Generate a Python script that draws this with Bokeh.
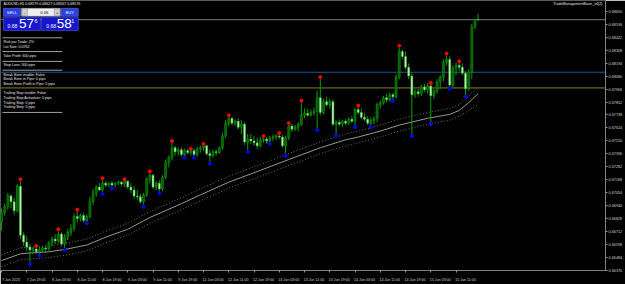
from bokeh.plotting import figure
from bokeh.models import Range1d, LinearAxis, FixedTicker, Span, Label, PrintfTickFormatter
from bokeh.core.properties import value
from bokeh.embed import file_html
from bokeh.resources import INLINE

# ---------------- data ----------------
opens = [0.66793,0.66879,0.66931,0.67026,0.66975,0.66896,0.67112,0.66681,0.66620,0.66577,
         0.66551,0.66560,0.66534,0.66551,0.66569,0.66560,0.66612,0.66646,0.66629,0.66690,
         0.66603,0.66663,0.66707,0.66742,0.66845,0.66828,0.66853,0.66810,0.66845,0.66975,
         0.67052,0.67104,0.67078,0.67138,0.67121,0.67138,0.67121,0.67138,0.67147,0.67130,
         0.67155,0.67104,0.67078,0.67026,0.67018,0.66975,0.67035,0.67173,0.67208,0.67104,
         0.67138,0.67087,0.67190,0.67320,0.67363,0.67450,0.67415,0.67433,0.67390,0.67424,
         0.67407,0.67424,0.67390,0.67441,0.67450,0.67467,0.67398,0.67381,0.67415,0.67407,
         0.67450,0.67553,0.67666,0.67709,0.67666,0.67683,0.67631,0.67657,0.67501,0.67527,
         0.67510,0.67493,0.67467,0.67519,0.67527,0.67510,0.67536,0.67544,0.67553,0.67544,
         0.67467,0.67536,0.67640,0.67613,0.67631,0.67657,0.67735,0.67752,0.67735,0.67760,
         0.67769,0.67890,0.67760,0.67855,0.67829,0.67855,0.67657,0.67674,0.67657,0.67683,
         0.67666,0.67700,0.67683,0.67786,0.67760,0.67717,0.67700,0.67666,0.67692,0.67709,
         0.67829,0.67846,0.67890,0.67872,0.67916,0.67899,0.68071,0.68296,0.68253,0.68158,
         0.68080,0.67916,0.67942,0.67925,0.67985,0.67959,0.67994,0.67907,0.67951,0.68028,
         0.68071,0.68201,0.68227,0.68002,0.68149,0.68175,0.68158,0.68106,0.67968,0.68114,
         0.68512,0.68579]
highs = [0.66914,0.66958,0.67052,0.67044,0.67009,0.67130,0.67155,0.66707,0.66672,0.66603,
         0.66577,0.66569,0.66577,0.66586,0.66594,0.66629,0.66672,0.66690,0.66716,0.66707,
         0.66690,0.66733,0.66776,0.66871,0.66888,0.66871,0.66879,0.66862,0.67018,0.67087,
         0.67121,0.67138,0.67164,0.67155,0.67147,0.67155,0.67147,0.67164,0.67155,0.67164,
         0.67164,0.67138,0.67112,0.67078,0.67044,0.67052,0.67190,0.67225,0.67217,0.67155,
         0.67164,0.67208,0.67346,0.67381,0.67493,0.67467,0.67450,0.67450,0.67441,0.67441,
         0.67433,0.67441,0.67458,0.67467,0.67476,0.67476,0.67433,0.67433,0.67433,0.67458,
         0.67579,0.67692,0.67717,0.67717,0.67700,0.67709,0.67692,0.67674,0.67570,0.67570,
         0.67553,0.67536,0.67544,0.67544,0.67544,0.67553,0.67562,0.67570,0.67570,0.67562,
         0.67553,0.67657,0.67657,0.67649,0.67674,0.67846,0.67795,0.67795,0.67786,0.67803,
         0.67951,0.68054,0.67881,0.67899,0.67881,0.67872,0.67692,0.67700,0.67692,0.67700,
         0.67717,0.67726,0.67803,0.67812,0.67795,0.67752,0.67726,0.67717,0.67726,0.67846,
         0.67864,0.67907,0.67925,0.67933,0.67933,0.68097,0.68331,0.68313,0.68296,0.68192,
         0.68105,0.67968,0.67968,0.68002,0.68011,0.68019,0.68002,0.67968,0.68054,0.68088,
         0.68227,0.68261,0.68253,0.68175,0.68201,0.68201,0.68192,0.68123,0.68140,0.68538,
         0.68581,0.68627]
lows = [0.66724,0.66853,0.66905,0.66914,0.66862,0.66879,0.66646,0.66586,0.66543,0.66440,
        0.66517,0.66517,0.66517,0.66526,0.66534,0.66543,0.66586,0.66603,0.66612,0.66586,
        0.66569,0.66637,0.66672,0.66716,0.66793,0.66802,0.66793,0.66793,0.66828,0.66949,
        0.67018,0.67069,0.67061,0.67104,0.67104,0.67112,0.67104,0.67121,0.67112,0.67104,
        0.67087,0.67052,0.67001,0.66992,0.66958,0.66949,0.67018,0.67138,0.67087,0.67078,
        0.67069,0.67069,0.67173,0.67277,0.67337,0.67381,0.67381,0.67372,0.67372,0.67390,
        0.67381,0.67372,0.67372,0.67407,0.67424,0.67381,0.67328,0.67363,0.67381,0.67398,
        0.67433,0.67536,0.67640,0.67649,0.67640,0.67613,0.67570,0.67476,0.67424,0.67484,
        0.67467,0.67441,0.67450,0.67493,0.67484,0.67501,0.67510,0.67519,0.67527,0.67450,
        0.67398,0.67519,0.67588,0.67596,0.67596,0.67640,0.67709,0.67726,0.67726,0.67735,
        0.67613,0.67735,0.67743,0.67812,0.67795,0.67640,0.67570,0.67640,0.67631,0.67649,
        0.67649,0.67666,0.67640,0.67743,0.67700,0.67683,0.67649,0.67640,0.67657,0.67674,
        0.67795,0.67829,0.67846,0.67855,0.67872,0.67881,0.68054,0.68227,0.68140,0.68054,
        0.67562,0.67890,0.67899,0.67907,0.67942,0.67925,0.67674,0.67881,0.67925,0.67968,
        0.68037,0.68175,0.67976,0.67985,0.68088,0.68123,0.68088,0.67907,0.67951,0.68054,
        0.68495,0.68567]
closes = [0.66879,0.66931,0.67026,0.66975,0.66896,0.67112,0.66681,0.66620,0.66577,0.66551,
          0.66560,0.66534,0.66551,0.66569,0.66560,0.66612,0.66646,0.66629,0.66690,0.66603,
          0.66663,0.66707,0.66742,0.66845,0.66828,0.66853,0.66810,0.66845,0.66975,0.67052,
          0.67104,0.67078,0.67138,0.67121,0.67138,0.67121,0.67138,0.67147,0.67130,0.67155,
          0.67104,0.67078,0.67026,0.67018,0.66975,0.67035,0.67173,0.67208,0.67104,0.67138,
          0.67087,0.67190,0.67320,0.67363,0.67450,0.67415,0.67433,0.67390,0.67424,0.67407,
          0.67424,0.67390,0.67441,0.67450,0.67467,0.67398,0.67381,0.67415,0.67407,0.67450,
          0.67553,0.67666,0.67709,0.67666,0.67683,0.67631,0.67657,0.67501,0.67527,0.67510,
          0.67493,0.67467,0.67519,0.67527,0.67510,0.67536,0.67544,0.67553,0.67544,0.67467,
          0.67536,0.67640,0.67613,0.67631,0.67657,0.67735,0.67752,0.67735,0.67760,0.67769,
          0.67890,0.67760,0.67855,0.67829,0.67855,0.67657,0.67674,0.67657,0.67683,0.67666,
          0.67700,0.67683,0.67786,0.67760,0.67717,0.67700,0.67666,0.67692,0.67709,0.67829,
          0.67846,0.67890,0.67872,0.67916,0.67899,0.68071,0.68296,0.68253,0.68158,0.68080,
          0.67916,0.67942,0.67925,0.67985,0.67959,0.67994,0.67907,0.67951,0.68028,0.68071,
          0.68201,0.68227,0.68002,0.68149,0.68175,0.68158,0.68106,0.67968,0.68114,0.68512,
          0.68579,0.68576]
bars = list(range(len(opens)))

# fractal markers (bar index, price)
up_fractal_bar = [6, 11, 18, 24, 32, 39, 47, 54, 60, 64, 72, 83, 88, 91, 95, 101, 113, 126, 136, 141, 145]
up_fractal_px = [0.67173, 0.66586, 0.66733, 0.66905, 0.67182, 0.67173, 0.67242, 0.67510, 0.67441, 0.67484,
                 0.67735, 0.67553, 0.67579, 0.67666, 0.67864, 0.68071, 0.67821, 0.68348, 0.68019, 0.68278, 0.68210]
dn_fractal_bar = [9, 12, 20, 27, 32, 35, 45, 50, 58, 61, 66, 78, 85, 90, 100, 106, 112, 117, 124, 130, 136, 142, 147]
dn_fractal_px = [0.66422, 0.66500, 0.66551, 0.66785, 0.67044, 0.67095, 0.66931, 0.67052, 0.67363, 0.67363,
                 0.67311, 0.67415, 0.67484, 0.67381, 0.67605, 0.67562, 0.67631, 0.67631, 0.67864, 0.67553,
                 0.67657, 0.67968, 0.67899]

# envelope bands
band_bar = [0, 6, 10, 15, 21, 27, 33, 40, 47, 57, 63, 72, 82, 91, 101, 109, 113, 120, 126, 135, 142, 145, 148, 151]
band_mid = [0.66457, 0.66517, 0.66526, 0.66534, 0.66560, 0.66594, 0.66663, 0.66733, 0.66836, 0.66958, 0.67035, 0.67147,
            0.67251, 0.67346, 0.67450, 0.67519, 0.67544, 0.67596, 0.67649, 0.67709, 0.67743, 0.67778, 0.67846, 0.67925]
band_up = [0.66508, 0.66569, 0.66577, 0.66586, 0.66612, 0.66646, 0.66716, 0.66785, 0.66888, 0.67009, 0.67087, 0.67199,
           0.67303, 0.67398, 0.67501, 0.67570, 0.67596, 0.67649, 0.67700, 0.67760, 0.67795, 0.67829, 0.67907, 0.67985]
band_lo = [0.66405, 0.66465, 0.66474, 0.66483, 0.66508, 0.66543, 0.66612, 0.66681, 0.66785, 0.66905, 0.66983, 0.67095,
           0.67199, 0.67294, 0.67398, 0.67467, 0.67493, 0.67544, 0.67596, 0.67657, 0.67692, 0.67726, 0.67778, 0.67829]

bid_price = 0.68576
line_blue_price = 0.68114
line_olive_price = 0.67976

price_ticks = [0.66370, 0.66484, 0.66598, 0.66712, 0.66826, 0.66940, 0.67054, 0.67168, 0.67282, 0.67396, 0.67510,
               0.67624, 0.67738, 0.67852, 0.67966, 0.68080, 0.68194, 0.68308, 0.68422, 0.68536, 0.68650]
time_tick_bar = [0, 8, 16, 24, 32, 40, 48, 56, 64, 72, 80, 88, 96, 104, 112, 120, 128, 136, 144]
time_labels = ["7 Jun 2023", "7 Jun 19:00", "8 Jun 03:00", "8 Jun 11:00", "8 Jun 19:00", "9 Jun 03:00",
               "9 Jun 11:00", "9 Jun 19:00", "12 Jun 03:00", "12 Jun 11:00", "12 Jun 19:00", "13 Jun 03:00",
               "13 Jun 11:00", "13 Jun 19:00", "14 Jun 03:00", "14 Jun 11:00", "14 Jun 19:00", "15 Jun 03:00",
               "15 Jun 11:00"]

title_text = "AUDUSD,H1  0.68579 0.68627 0.68567 0.68576"
ea_name = "TradeManagementBasic_v4(2)"
info_lines = ["Risk per Trade: 2%", "Lot Size: 0.0762", "Take Profit: 600 pips", "Stop Loss: 300 pips",
              "Break Even enable: False", "Break Even in Pips: 0 pips", "Break Even Profit in Pips: 0 pips",
              "Trailing Stop enable: False", "Trailing Stop Activation: 0 pips", "Trailing Stop: 0 pips",
              "Trailing Step: 0 pips"]

# ---------------- layout ----------------
XR0, XR1 = -0.32, 191.35
YR0, YR1 = 0.66370, 0.68745
FW, FH = 607, 275
FONT = value("Liberation Sans")


def X(px):
    return XR0 + px * (XR1 - XR0) / FW


def Y(py):
    return YR1 - py * (YR1 - YR0) / FH


p = figure(width=625, height=284, x_range=Range1d(XR0, XR1), y_range=Range1d(YR0, YR1),
           output_backend="svg", toolbar_location=None, x_axis_location=None, y_axis_location=None,
           min_border_left=0, min_border_top=0, min_border_right=18, min_border_bottom=9,
           background_fill_color="black", border_fill_color="black", outline_line_color="#5a5a5a")
p.grid.visible = False

# axes
yax = LinearAxis(ticker=FixedTicker(ticks=price_ticks), formatter=PrintfTickFormatter(format="%.5f"))
yax.axis_line_color = "#808080"
yax.major_tick_line_color = "#9a9a9a"
yax.major_tick_out = 2
yax.major_tick_in = 0
yax.minor_tick_line_color = None
yax.major_label_standoff = 1
yax.major_label_text_font = "Liberation Sans"
yax.major_label_text_font_size = "3.8px"
yax.major_label_text_color = "#d0d0d0"
p.add_layout(yax, "right")

label_pos = [b + 3 for b in time_tick_bar]
xax = LinearAxis(ticker=FixedTicker(ticks=label_pos, minor_ticks=time_tick_bar),
                 major_label_overrides={lp: t for lp, t in zip(label_pos, time_labels)})
xax.axis_line_color = "#808080"
xax.major_tick_line_color = None
xax.minor_tick_line_color = "#9a9a9a"
xax.minor_tick_out = 2
xax.minor_tick_in = 0
xax.major_label_standoff = 1
xax.major_label_text_font = "Liberation Sans"
xax.major_label_text_font_size = "3.6px"
xax.major_label_text_color = "#d0d0d0"
p.add_layout(xax, "below")

# horizontal lines
p.add_layout(Span(location=bid_price, dimension="width", line_color="#6f7f8f", line_width=1, level="underlay"))
p.add_layout(Span(location=line_blue_price, dimension="width", line_color="#1d5a92", line_width=1, level="underlay"))
p.add_layout(Span(location=line_olive_price, dimension="width", line_color="#80801e", line_width=1, level="underlay"))

# envelope bands
p.line(band_bar, band_mid, line_color="#a8a8a8", line_width=0.9)
p.line(band_bar, band_up, line_color="#8c8c8c", line_width=0.8, line_dash="1 2")
p.line(band_bar, band_lo, line_color="#8c8c8c", line_width=0.8, line_dash="1 2")

# candles
bull = [c >= o for o, c in zip(opens, closes)]
p.segment(x0=bars, y0=lows, x1=bars, y1=highs, line_color="#00a000", line_width=1)
p.vbar(x=[b for b, u in zip(bars, bull) if u], width=0.62,
       top=[c for c, u in zip(closes, bull) if u], bottom=[o for o, u in zip(opens, bull) if u],
       fill_color="#0a560a", line_color="#00a000", line_width=0.6)
p.vbar(x=[b for b, u in zip(bars, bull) if not u], width=0.62,
       top=[o for o, u in zip(opens, bull) if not u], bottom=[c for c, u in zip(closes, bull) if not u],
       fill_color="#c0f2b8", line_color="#3cb43c", line_width=0.5)

# fractals
p.scatter(up_fractal_bar, up_fractal_px, marker="circle", size=3.0, fill_color="#ff0000", line_color="#ff0000")
p.scatter(dn_fractal_bar, dn_fractal_px, marker="circle", size=3.0, fill_color="#0000ff", line_color="#0000ff")

# bid price tag on the price scale
p.add_layout(Label(x=XR1, y=bid_price, x_offset=1, text="%.5f" % bid_price, text_font="Liberation Sans",
                   text_font_size="3.8px", text_color="black", text_baseline="middle",
                   background_fill_color="#f0f0f0"))

# header texts
p.text(x=[X(3)], y=[Y(4)], text=[title_text], text_font=FONT, text_font_size="3.6px",
       text_color="#e8e8e8", text_baseline="middle")
p.text(x=[X(604)], y=[Y(4)], text=[ea_name], text_font=FONT, text_font_size="3.6px",
       text_color="#e8e8e8", text_baseline="middle", text_align="right")

# trade panel: buttons
p.quad(left=[X(3), X(61)], right=[X(20), X(78)], top=[Y(8), Y(8)], bottom=[Y(16), Y(16)],
       fill_color="#2b3fdc", line_color="#6a7cff", line_width=0.5)
p.quad(left=[X(21)], right=[X(60)], top=[Y(8)], bottom=[Y(16)], fill_color="#eeeeee", line_color="#9a9a9a",
       line_width=0.5)
p.quad(left=[X(21.5), X(54)], right=[X(27), X(59.5)], top=[Y(8.5), Y(8.5)], bottom=[Y(15.5), Y(15.5)],
       fill_color="#cfcfcf", line_color="#8a8a8a", line_width=0.5)
p.quad(left=[X(3), X(41)], right=[X(40), X(78)], top=[Y(17), Y(17)], bottom=[Y(30.5), Y(30.5)],
       fill_color="#1616cf", line_color="#5a6aff", line_width=0.5)
p.text(x=[X(11.5), X(69.5)], y=[Y(12), Y(12)], text=["SELL", "BUY"], text_font=FONT, text_font_size="4.2px",
       text_color="white", text_align="center", text_baseline="middle")
p.text(x=[X(24.2), X(56.8), X(44)], y=[Y(12), Y(12), Y(12)], text=["-", "+", "0.05"], text_font=FONT,
       text_font_size="4.2px", text_color="black", text_align="center", text_baseline="middle")
p.text(x=[X(7), X(46)], y=[Y(27.5), Y(27.5)], text=["0.68", "0.68"], text_font=FONT, text_font_size="5px",
       text_color="white")
p.text(x=[X(18.5), X(56.5)], y=[Y(28.5), Y(28.5)], text=["57", "58"], text_font=FONT, text_font_size="13.5px",
       text_color="white")
p.text(x=[X(34), X(71)], y=[Y(22.5), Y(22.5)], text=["6", "1"], text_font=FONT, text_font_size="5.5px",
       text_color="white")

# info block
sep_rows = [38, 52, 62, 71, 114]
p.segment(x0=[X(2)] * len(sep_rows), x1=[X(62)] * len(sep_rows), y0=[Y(r) for r in sep_rows],
          y1=[Y(r) for r in sep_rows], line_color="#a0a0a0", line_width=1)
info_rows = [42, 47, 57, 66, 75.5, 80, 85, 94.5, 99, 104, 108.5]
p.text(x=[X(3)] * len(info_lines), y=[Y(r) for r in info_rows], text=info_lines, text_font=FONT,
       text_font_size="3.6px", text_color="#e8e8e8", text_baseline="middle")

open("out.html", "w").write(file_html(p, INLINE))
